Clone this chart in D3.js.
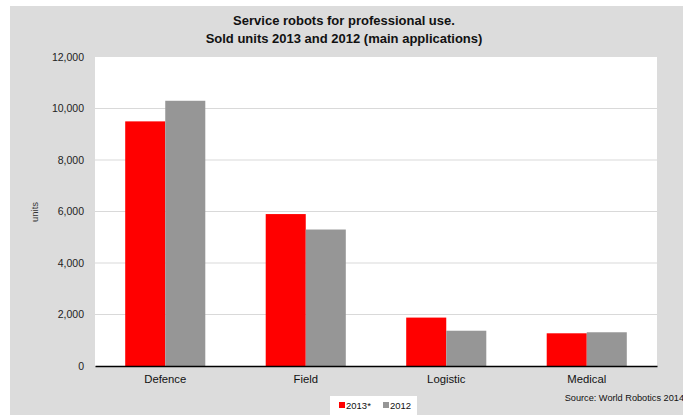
<!DOCTYPE html>
<html>
<head>
<meta charset="utf-8">
<script src="https://cdn.jsdelivr.net/npm/d3@7/dist/d3.min.js"></script>
<style>
  html, body { margin: 0; padding: 0; background: #fff; }
  svg { display: block; font-family: "Liberation Sans", Arial, sans-serif; }
</style>
</head>
<body>
<svg id="chart" width="683" height="415"></svg>
<script>
// Sold units of service robots for professional use, by application
const categories = ["Defence", "Field", "Logistic", "Medical"];
const units2013 = [9500, 5900, 1880, 1270];
const units2012 = [10300, 5300, 1370, 1310];
const seriesNames = ["2013*", "2012"];
const seriesColors = ["#ff0000", "#969696"];
const yTicks = [0, 2000, 4000, 6000, 8000, 10000, 12000];

const svg = d3.select("#chart");
const W = 683, H = 415;
const plot = { left: 95, right: 657, top: 57, bottom: 366 };

// outer panel
svg.append("rect").attr("x", 10).attr("y", 6).attr("width", W - 10).attr("height", H - 6)
  .attr("fill", "#dcdcdc");

// plot area
svg.append("rect").attr("x", plot.left).attr("y", plot.top)
  .attr("width", plot.right - plot.left).attr("height", plot.bottom - plot.top)
  .attr("fill", "#ffffff");

const x0 = d3.scaleBand().domain(categories).range([plot.left, plot.right]).paddingInner(0.43).paddingOuter(0.215);
const x1 = d3.scaleBand().domain(seriesNames).range([0, x0.bandwidth()]);
const y = d3.scaleLinear().domain([0, 12000]).range([plot.bottom, plot.top]);

// gridlines
svg.append("g").selectAll("line").data(yTicks.filter(t => t > 0 && t < 12000)).join("line")
  .attr("x1", plot.left).attr("x2", plot.right)
  .attr("y1", d => y(d)).attr("y2", d => y(d))
  .attr("stroke", "#d9d9d9").attr("stroke-width", 1);

// bars
const rows = categories.map((c, i) => ({ cat: c, vals: [units2013[i], units2012[i]] }));
const groups = svg.append("g").selectAll("g").data(rows).join("g")
  .attr("transform", d => `translate(${x0(d.cat)},0)`);
groups.selectAll("rect").data(d => d.vals.map((v, j) => ({ v, s: seriesNames[j], c: seriesColors[j] })))
  .join("rect")
  .attr("x", d => x1(d.s)).attr("width", x1.bandwidth())
  .attr("y", d => y(d.v)).attr("height", d => y(0) - y(d.v))
  .attr("fill", d => d.c);

// y axis labels
const yAxis = d3.axisLeft(y).tickValues(yTicks).tickSize(0).tickPadding(11)
  .tickFormat(d3.format(","));
const yg = svg.append("g").attr("transform", `translate(${plot.left},0)`).call(yAxis);
yg.select(".domain").remove();
yg.selectAll("text").attr("font-size", 10.5).attr("fill", "#222").attr("font-family", "Liberation Sans, Arial, sans-serif");

// x axis
const xAxis = d3.axisBottom(x0).tickSize(0).tickPadding(9);
const xg = svg.append("g").attr("transform", `translate(0,${plot.bottom})`).call(xAxis);
xg.select(".domain").attr("stroke", "#000").attr("stroke-width", 1.3);
xg.selectAll("text").attr("font-size", 11.3).attr("fill", "#111").attr("font-family", "Liberation Sans, Arial, sans-serif");

// y axis title
svg.append("text").attr("transform", "translate(38,212) rotate(-90)")
  .attr("text-anchor", "middle").attr("font-size", 9.5).attr("fill", "#333").text("units");

// title
const title = svg.append("text").attr("x", 344).attr("text-anchor", "middle")
  .attr("font-size", 13).attr("font-weight", "bold").attr("fill", "#111");
title.append("tspan").attr("x", 344).attr("y", 25).text("Service robots for professional use.");
title.append("tspan").attr("x", 344).attr("y", 43).text("Sold units 2013 and 2012 (main applications)");

// legend
const leg = svg.append("g");
leg.append("rect").attr("x", 330).attr("y", 396).attr("width", 87).attr("height", 19).attr("fill", "#fff");
const li = leg.selectAll("g").data(seriesNames).join("g")
  .attr("transform", (d, i) => `translate(${339 + i * 44},401)`);
li.append("rect").attr("width", 6).attr("height", 6).attr("y", 1).attr("fill", (d, i) => seriesColors[i]);
li.append("text").attr("x", 7).attr("y", 8).attr("font-size", 9.5).attr("fill", "#111").text(d => d);

// source note
svg.append("text").attr("x", 684).attr("y", 401).attr("text-anchor", "end")
  .attr("font-size", 9.2).attr("fill", "#111").text("Source: World Robotics 2014");
</script>
</body>
</html>
